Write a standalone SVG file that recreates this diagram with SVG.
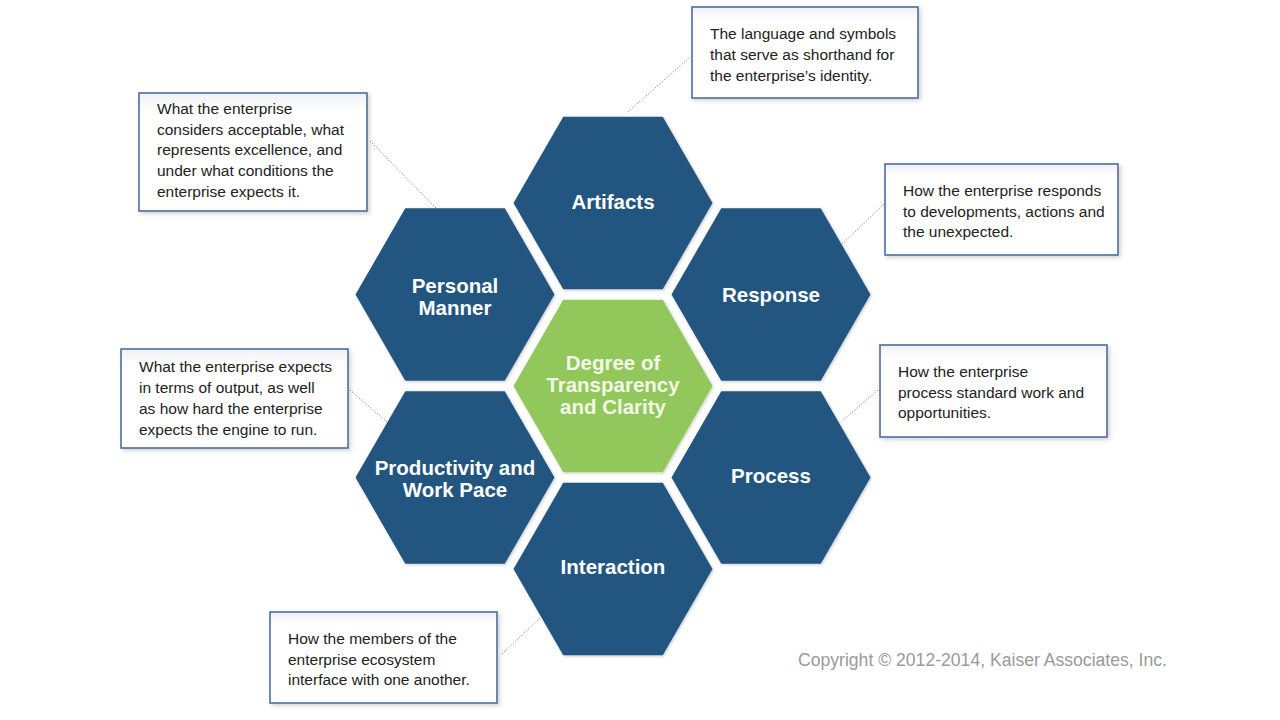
<svg xmlns="http://www.w3.org/2000/svg" width="1280" height="720" viewBox="0 0 1280 720">
<defs>
<filter id="sh" x="-10%" y="-10%" width="130%" height="130%">
<feDropShadow dx="2" dy="2" stdDeviation="2" flood-color="#000" flood-opacity="0.18"/>
</filter>
<filter id="hsh" x="-10%" y="-10%" width="130%" height="130%">
<feDropShadow dx="1" dy="1" stdDeviation="1.5" flood-color="#000" flood-opacity="0.22"/>
</filter>
<linearGradient id="boxg" x1="0" y1="0" x2="0" y2="1">
<stop offset="0" stop-color="#eef1f5"/>
<stop offset="0.15" stop-color="#ffffff"/>
<stop offset="1" stop-color="#ffffff"/>
</linearGradient>
<polygon id="hex" points="-99.5,0 -49.75,-86.2 49.75,-86.2 99.5,0 49.75,86.2 -49.75,86.2"/>
</defs>
<style>
.hb{fill:#245680;filter:url(#hsh)}
.hg{fill:#92c75c;filter:url(#hsh)}
.hl{font-family:"Liberation Sans",Arial,sans-serif;font-weight:bold;font-size:20.5px;fill:#ffffff;text-anchor:middle}
.gl{font-family:"Liberation Sans",Arial,sans-serif;font-weight:bold;font-size:20.5px;fill:#f3f8e6;text-anchor:middle}
.box{fill:url(#boxg);stroke:#4d6e9c;stroke-width:1.6;filter:url(#sh)}
.bt{font-family:"Liberation Sans",Arial,sans-serif;font-size:15.5px;fill:#222222}
.con{stroke:#6a6a6a;stroke-width:1;stroke-dasharray:1 2;fill:none}
.cp{font-family:"Liberation Sans",Arial,sans-serif;font-size:17.6px;fill:#9a9a9a}
</style>
<rect width="1280" height="720" fill="#ffffff"/>

<g id="connectors">
<line class="con" x1="628" y1="112" x2="690" y2="57"/>
<line class="con" x1="370" y1="141" x2="436" y2="208"/>
<line class="con" x1="884" y1="204" x2="840" y2="246"/>
<line class="con" x1="350" y1="390" x2="388" y2="423"/>
<line class="con" x1="878" y1="390" x2="842" y2="421"/>
<line class="con" x1="502" y1="654" x2="542" y2="616"/>
</g>

<g id="hex-artifacts">
<use href="#hex" class="hb" x="613" y="203"/>
<text class="hl" x="613" y="209">Artifacts</text>
</g>
<g id="hex-personal-manner">
<use href="#hex" class="hb" x="455" y="294.5"/>
<text class="hl" x="455" y="293">Personal</text>
<text class="hl" x="455" y="315">Manner</text>
</g>
<g id="hex-response">
<use href="#hex" class="hb" x="771" y="294.5"/>
<text class="hl" x="771" y="302">Response</text>
</g>
<g id="hex-productivity">
<use href="#hex" class="hb" x="455" y="477.5"/>
<text class="hl" x="455" y="475">Productivity and</text>
<text class="hl" x="455" y="497">Work Pace</text>
</g>
<g id="hex-process">
<use href="#hex" class="hb" x="771" y="477.5"/>
<text class="hl" x="771" y="483">Process</text>
</g>
<g id="hex-interaction">
<use href="#hex" class="hb" x="613" y="569"/>
<text class="hl" x="613" y="574">Interaction</text>
</g>
<g id="hex-center">
<use href="#hex" class="hg" x="613" y="386"/>
<text class="gl" x="613" y="370">Degree of</text>
<text class="gl" x="613" y="392">Transparency</text>
<text class="gl" x="613" y="414">and Clarity</text>
</g>

<g id="box-artifacts">
<rect class="box" x="692" y="7" width="226" height="91"/>
<text class="bt" x="710" y="39">The language and symbols</text>
<text class="bt" x="710" y="60">that serve as shorthand for</text>
<text class="bt" x="710" y="81">the enterprise’s identity.</text>
</g>
<g id="box-personal-manner">
<rect class="box" x="139" y="93" width="228" height="118"/>
<text class="bt" x="157" y="114">What the enterprise</text>
<text class="bt" x="157" y="135">considers acceptable, what</text>
<text class="bt" x="157" y="155">represents excellence, and</text>
<text class="bt" x="157" y="176">under what conditions the</text>
<text class="bt" x="157" y="197">enterprise expects it.</text>
</g>
<g id="box-response">
<rect class="box" x="885" y="164" width="233" height="91"/>
<text class="bt" x="903" y="196">How the enterprise responds</text>
<text class="bt" x="903" y="217">to developments, actions and</text>
<text class="bt" x="903" y="237">the unexpected.</text>
</g>
<g id="box-productivity">
<rect class="box" x="121" y="349" width="227" height="99"/>
<text class="bt" x="139" y="372">What the enterprise expects</text>
<text class="bt" x="139" y="393">in terms of output, as well</text>
<text class="bt" x="139" y="414">as how hard the enterprise</text>
<text class="bt" x="139" y="435">expects the engine to run.</text>
</g>
<g id="box-process">
<rect class="box" x="880" y="345" width="227" height="92"/>
<text class="bt" x="898" y="377">How the enterprise</text>
<text class="bt" x="898" y="398">process standard work and</text>
<text class="bt" x="898" y="418">opportunities.</text>
</g>
<g id="box-interaction">
<rect class="box" x="270" y="612" width="227" height="91"/>
<text class="bt" x="288" y="644">How the members of the</text>
<text class="bt" x="288" y="665">enterprise ecosystem</text>
<text class="bt" x="288" y="685">interface with one another.</text>
</g>

<text class="cp" x="798" y="666">Copyright © 2012-2014, Kaiser Associates, Inc.</text>
</svg>
